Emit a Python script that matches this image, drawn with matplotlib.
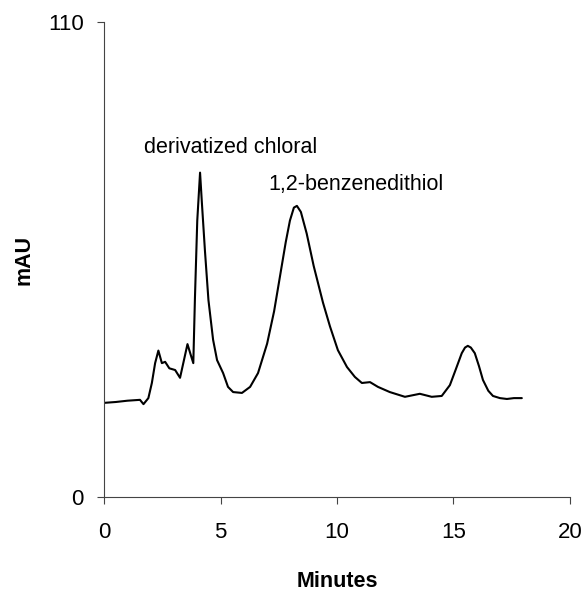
import numpy as np
import matplotlib
matplotlib.use('Agg')
import matplotlib.pyplot as plt

plt.rcParams['font.family'] = ['Liberation Sans', 'DejaVu Sans']

# chromatogram trace (minutes, mAU)
minutes = [0.0, 0.5, 1.0, 1.54, 1.69, 1.9, 2.05, 2.19, 2.33, 2.48, 2.62, 2.8,
           3.05, 3.26, 3.4, 3.58, 3.72, 3.83, 3.9, 4.0, 4.12, 4.2, 4.33,
           4.48, 4.68, 4.85, 5.11, 5.32, 5.54, 5.92, 6.27, 6.61, 7.0, 7.3, 7.55,
           7.8, 7.98, 8.15, 8.28, 8.45, 8.7, 9.0, 9.4, 9.7, 10.04, 10.43, 10.77,
           11.07, 11.42, 11.76, 12.27, 12.92, 13.56, 14.07, 14.5, 14.85, 15.1,
           15.36, 15.5, 15.62, 15.75, 15.92, 16.1, 16.27, 16.5, 16.7, 17.0, 17.3,
           17.6, 17.94]
mau = [21.8, 22.0, 22.3, 22.5, 21.5, 22.9, 26.4, 31.0, 33.9, 31.0, 31.3, 29.8,
       29.4, 27.6, 31.0, 35.4, 32.9, 31.0, 46.0, 64.0, 75.1, 68.0, 57.0,
       45.6, 36.4, 31.7, 28.7, 25.5, 24.3, 24.1, 25.5, 28.7, 35.5, 43.0, 51.0,
       59.0, 64.0, 67.0, 67.4, 66.0, 61.0, 53.5, 45.0, 39.5, 34.0, 30.1, 27.8,
       26.4, 26.6, 25.5, 24.3, 23.2, 23.9, 23.2, 23.4, 25.9, 29.5,
       33.3, 34.6, 35.0, 34.6, 33.3, 30.3, 27.1, 24.6, 23.4, 22.9, 22.7,
       22.9, 22.9]

peak_labels = ["derivatized chloral", "1,2-benzenedithiol"]
label_pos = [(5.45, 81.0), (10.8, 72.3)]

x_ticks = [0, 5, 10, 15, 20]
y_ticks = [0, 110]

fig = plt.figure(figsize=(5.85, 5.91), dpi=100)
ax = fig.add_axes([0.178, 0.159, 0.796, 0.804])

ax.plot(minutes, mau, color='black', linewidth=1.5,
        solid_joinstyle='round', solid_capstyle='round')

for text, (x, y) in zip(peak_labels, label_pos):
    ax.text(x, y, text, fontsize=15.5, ha='center', va='center')

ax.set_xlim(0, 20)
ax.set_ylim(0, 110)
ax.set_xticks(x_ticks)
ax.set_yticks(y_ticks)
ax.tick_params(axis='both', labelsize=16, length=5, width=0.8, direction='out',
               color='#444444')
ax.tick_params(axis='x', pad=13)
ax.tick_params(axis='y', pad=9.5)
for side in ['top', 'right']:
    ax.spines[side].set_visible(False)
for side in ['left', 'bottom']:
    ax.spines[side].set_color('#444444')
    ax.spines[side].set_linewidth(0.8)

ax.set_xlabel("Minutes", fontsize=15.5, fontweight='bold', labelpad=20)
ax.set_ylabel("mAU", fontsize=15.5, fontweight='bold', labelpad=10)

plt.savefig("out.png", dpi=100)
plt.close()
